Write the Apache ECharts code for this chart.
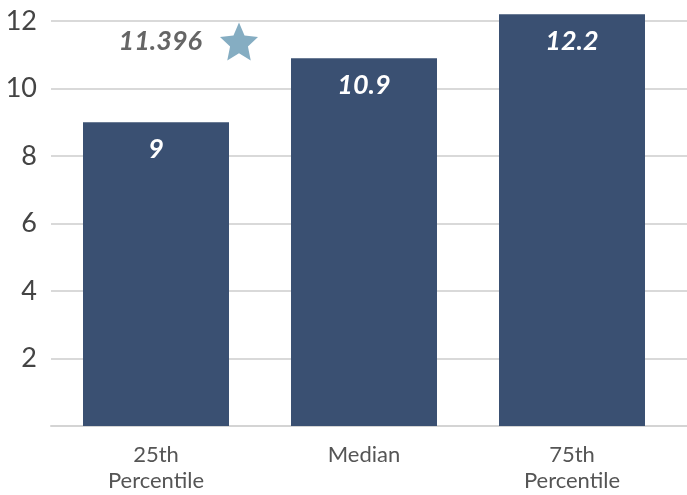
<!DOCTYPE html>
<html>
<head>
<meta charset="utf-8">
<script src="https://cdn.jsdelivr.net/npm/echarts@6/dist/echarts.min.js"></script>
<style>html,body{margin:0;padding:0;background:#fff;}#c{width:687px;height:495px;}</style>
</head>
<body>
<div id="c"></div>
<script>
var categories = ['25th\nPercentile', 'Median', '75th\nPercentile'];
var values = [9, 10.9, 12.2];
var benchmark = [11.396, '-', '-'];
var yTicks = [2, 4, 6, 8, 10, 12];

var FONT = 'Lato';
function starPathFn(inner) {
  var pts = [];
  for (var i = 0; i < 10; i++) {
    var r = i % 2 === 0 ? 50 : 50 * inner;
    var a = -Math.PI / 2 + i * Math.PI / 5;
    pts.push((50 + r * Math.cos(a)).toFixed(2) + ',' + (50 + r * Math.sin(a)).toFixed(2));
  }
  return 'path://M' + pts.join(' L') + ' Z';
}
var starPath = starPathFn(0.47);

var chart = echarts.init(document.getElementById('c'), null, {renderer: 'canvas'});
chart.setOption({
  animation: false,
  grid: [
    {left: 51, right: 0, top: 21, bottom: 69},
    {left: 52, right: 11, top: 21, bottom: 69}
  ],
  xAxis: [
    {type: 'category', gridIndex: 0, data: categories,
     axisLine: {show: true, lineStyle: {color: '#d4d4d4', width: 2}},
     axisTick: {show: false}, axisLabel: {show: false}},
    {type: 'category', gridIndex: 1, data: categories,
     axisLine: {show: false}, axisTick: {show: false},
     axisLabel: {color: '#555', fontFamily: FONT, fontSize: 22, lineHeight: 26, margin: 16}}
  ],
  yAxis: [
    {type: 'value', gridIndex: 0, min: 0, max: 12, interval: 2,
     axisLine: {show: false}, axisTick: {show: false},
     splitLine: {lineStyle: {color: '#d9d9d9', width: 2}},
     axisLabel: {color: '#444', fontFamily: FONT, fontSize: 27, margin: 14,
       formatter: function (v) { return yTicks.indexOf(v) >= 0 ? String(v) : ''; }}},
    {type: 'value', gridIndex: 1, min: 0, max: 12, interval: 2, show: false}
  ],
  series: [
    {type: 'bar', xAxisIndex: 1, yAxisIndex: 1, data: values, barWidth: 146, clip: false,
     itemStyle: {color: '#3a5072'},
     label: {show: true, position: 'insideTop', distance: 14, color: '#fff',
       fontFamily: FONT, fontSize: 27, fontWeight: 'bold', fontStyle: 'italic'}},
    {type: 'scatter', xAxisIndex: 1, yAxisIndex: 1, data: benchmark, clip: false,
     symbol: starPath, symbolSize: 38, symbolOffset: [83, 0],
     itemStyle: {color: '#6699b3'},
     label: {show: true, position: 'left', distance: 18, color: '#3f3f3f',
       fontFamily: FONT, fontSize: 27, fontWeight: 'bold', fontStyle: 'italic',
       formatter: function (p) { return String(p.value); }}}
  ]
});
</script>
</body>
</html>
